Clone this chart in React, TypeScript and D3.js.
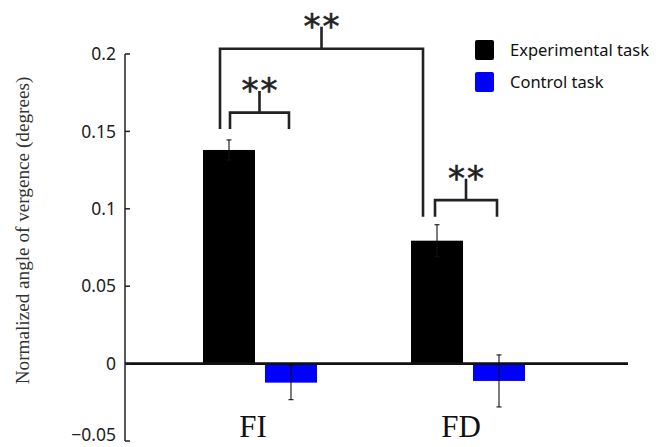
import React, { useEffect } from "react";
import * as d3 from "d3";

const categories = ["FI", "FD"];
const seriesNames = ["Experimental task", "Control task"];
const seriesColors = ["#000000", "#0000ff"];
const experimentalValues = [0.138, 0.0794];
const experimentalErrors = [0.0065, 0.0103];
const controlValues = [-0.0123, -0.0112];
const controlErrors = [0.011, 0.0168];
const yTicks = [-0.05, 0, 0.05, 0.1, 0.15, 0.2];
const yTickLabels = ["\u22120.05", "0", "0.05", "0.1", "0.15", "0.2"];
// brackets: [fromCategory, fromSeries, fromOffset, toCategory, toSeries, toOffset, leftFoot, rightFoot, barLevel, stemTop]
const brackets: [number, number, number, number, number, number, number, number, number, number][] = [
  [0, 0, -9, 1, 0, -14, 0.1516, 0.0948, 0.2034, 0.2176],
  [0, 0, 1, 0, 1, -2, 0.1516, 0.1516, 0.1621, 0.1761],
  [1, 0, -2, 1, 1, -2, 0.0948, 0.0948, 0.1056, 0.1194],
];
const bracketLabels = ["**", "**", "**"];

const W = 656;
const H = 447;

export default function App() {
  useEffect(() => {
    document.body.style.margin = "0";
  }, []);

  const y = d3.scaleLinear().domain([-0.05, 0.2]).range([441, 54]);
  const x0 = d3.scaleBand<string>().domain(categories).range([203, 525]).paddingInner(0.452).paddingOuter(0);
  const x1 = d3.scaleBand<string>().domain(seriesNames).range([0, x0.bandwidth()]).paddingInner(0.161);
  const bw = x1.bandwidth();
  const seriesVals = [experimentalValues, controlValues];
  const seriesErrs = [experimentalErrors, controlErrors];
  const axisX = 125;
  const baselineEnd = 628;

  const center = (ci: number, si: number) => (x0(categories[ci]) as number) + (x1(seriesNames[si]) as number) + bw / 2;

  return (
    <svg width={W} height={H} style={{ display: "block", background: "#fff" }}>
      {/* bars */}
      {seriesVals.map((vals, si) =>
        vals.map((v, ci) => {
          const xx = (x0(categories[ci]) as number) + (x1(seriesNames[si]) as number);
          return (
            <rect
              key={`b${si}-${ci}`}
              x={xx}
              y={Math.min(y(v), y(0))}
              width={bw}
              height={Math.abs(y(v) - y(0))}
              fill={seriesColors[si]}
            />
          );
        })
      )}
      {/* error bars */}
      {seriesVals.map((vals, si) =>
        vals.map((v, ci) => {
          const cx = center(ci, si);
          const e = seriesErrs[si][ci];
          const top = y(v + e);
          const bot = y(v - e);
          return (
            <g key={`e${si}-${ci}`} stroke="#111" strokeWidth={1.1}>
              <line x1={cx} x2={cx} y1={top} y2={bot} />
              <line x1={cx - 2.5} x2={cx + 2.5} y1={top} y2={top} />
              <line x1={cx - 2.5} x2={cx + 2.5} y1={bot} y2={bot} />
            </g>
          );
        })
      )}
      {/* zero baseline */}
      <line x1={axisX} x2={baselineEnd} y1={y(0)} y2={y(0)} stroke="#111" strokeWidth={2.6} />
      {/* y axis */}
      <line x1={axisX} x2={axisX} y1={y(0.2)} y2={y(-0.05)} stroke="#222" strokeWidth={1.5} />
      {yTicks.map((t, i) => (
        <g key={`t${i}`}>
          <line x1={axisX} x2={axisX + 5} y1={y(t)} y2={y(t)} stroke="#222" strokeWidth={1.5} />
          <text
            x={axisX - 9}
            y={Math.min(y(t), 435)}
            dy="0.35em"
            textAnchor="end"
            fontFamily="'Noto Sans', sans-serif"
            fontSize={17.5}
            fill="#222"
          >
            {yTickLabels[i]}
          </text>
        </g>
      ))}
      <text
        transform={`translate(22, ${(y(0.2) + y(-0.05)) / 2 - 17}) rotate(-90)`}
        textAnchor="middle"
        dy="0.35em"
        fontFamily="'Liberation Serif', serif"
        fontSize={19.2}
        fill="#333"
      >
        Normalized angle of vergence (degrees)
      </text>
      {/* category labels */}
      {categories.map((c, ci) => (
        <text
          key={`c${ci}`}
          x={(x0(c) as number) + x0.bandwidth() / 2 - 7}
          y={437}
          textAnchor="middle"
          fontFamily="'Liberation Serif', serif"
          fontSize={31}
          fill="#111"
        >
          {c}
        </text>
      ))}
      {/* significance brackets */}
      {brackets.map((b, i) => {
        const lx = center(b[0], b[1]) + b[2];
        const rx = center(b[3], b[4]) + b[5];
        const yl = y(b[6]);
        const yr = y(b[7]);
        const yb = y(b[8]);
        const ys = y(b[9]);
        const mx = (lx + rx) / 2;
        return (
          <g key={`br${i}`}>
            <path
              d={`M${lx},${yl}V${yb}H${rx}V${yr}M${mx},${yb}V${ys}`}
              fill="none"
              stroke="#222"
              strokeWidth={2.6}
            />
            <text
              x={mx + 1}
              y={ys + 11}
              textAnchor="middle"
              fontFamily="'DejaVu Sans', sans-serif"
              fontSize={34}
              letterSpacing={2}
              fill="#222"
              stroke="#222"
              strokeWidth={0.6}
            >
              {bracketLabels[i]}
            </text>
          </g>
        );
      })}
      {/* legend */}
      {seriesNames.map((s, i) => (
        <g key={`l${i}`} transform={`translate(475, ${40 + i * 32})`}>
          <rect width={19} height={20} rx={2} fill={seriesColors[i]} />
          <text x={35} y={10} dy="0.35em" fontFamily="'Noto Sans', sans-serif" fontSize={16.5} fill="#111">
            {s}
          </text>
        </g>
      ))}
    </svg>
  );
}
